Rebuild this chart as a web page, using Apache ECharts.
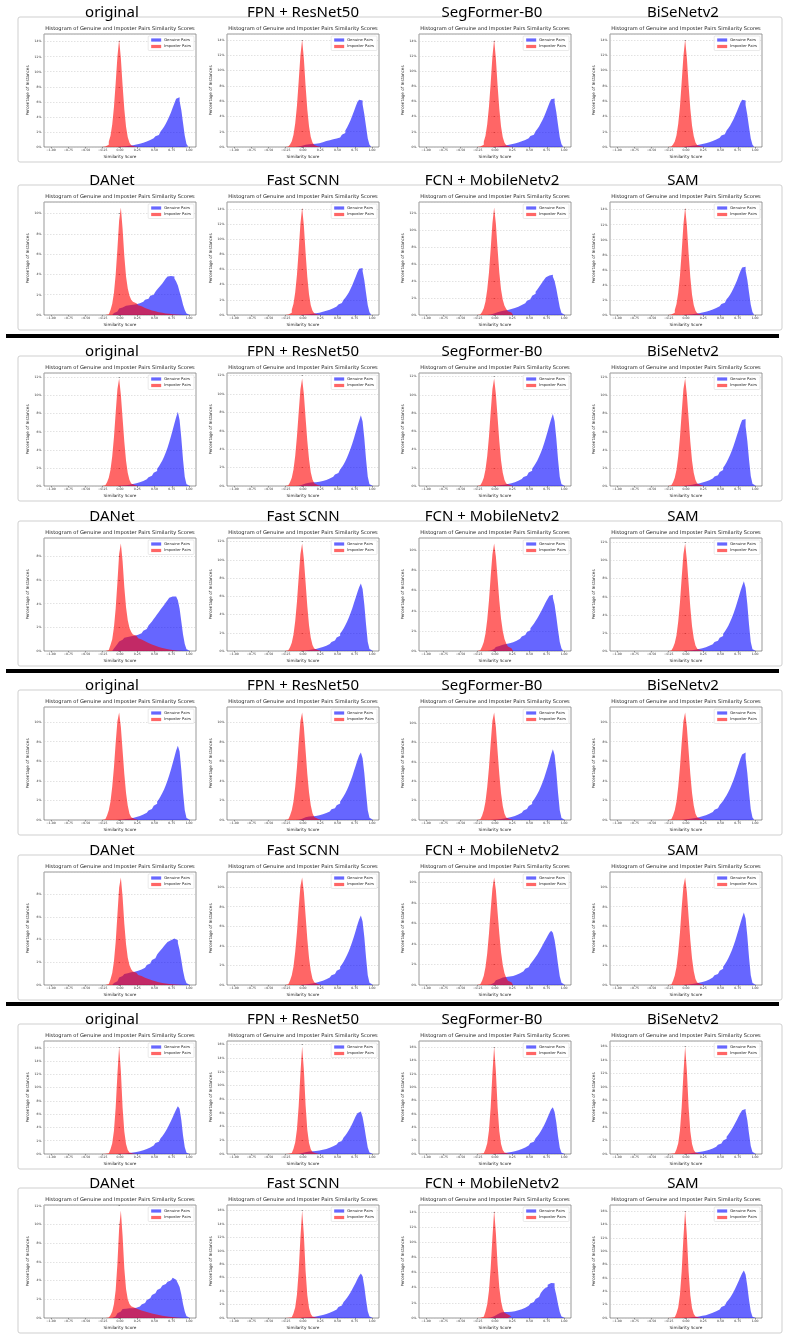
<!DOCTYPE html>
<html>
<head>
<meta charset="utf-8">
<script src="https://cdn.jsdelivr.net/npm/echarts@6/dist/echarts.min.js"></script>
<style>
html,body{margin:0;padding:0;background:#fff}
#main{width:789px;height:1337px}
</style>
</head>
<body>
<div id="main"></div>
<script>
// model names, in panel order (4 per row, 2 rows per group)
var MODELS = ['original', 'FPN + ResNet50', 'SegFormer-B0', 'BiSeNetv2', 'DANet', 'Fast SCNN', 'FCN + MobileNetv2', 'SAM'];
var PLOT_TITLE = 'Histogram of Genuine and Imposter Pairs Similarity Scores';
var X_TICKS = [-1, -0.75, -0.5, -0.25, 0, 0.25, 0.5, 0.75, 1];
var BIN = 0.025;          // histogram bin width
var GEN_START = -0.1;     // centre of first genuine bin
var IMP_START = -0.25;    // centre of first imposter bin

// ---- group 1 ----
var g1OriginalImp = [0.02,0.05,0.12,0.3,0.7,1.5,3.0,5.3,8.5,12.0,14.3,11.8,8.2,5.0,2.7,1.3,0.55,0.22,0.08,0.03,0.01];
var g1OriginalGen = [0,0,0.01,0.02,0.04,0.06,0.08,0.1,0.13,0.16,0.2,0.24,0.28,0.33,0.38,0.44,0.5,0.57,0.65,0.73,0.82,0.92,1.03,1.15,1.28,1.43,1.6,1.8,2.05,2.35,2.7,3.1,3.55,4.05,4.6,5.2,5.8,6.4,6.6,6.1,4.9,3.2,1.5,0.4,0.05];
var g1FpnImp = [0.02,0.05,0.13,0.32,0.75,1.6,3.1,5.4,8.6,12.0,14.1,11.6,8.0,4.9,2.7,1.3,0.6,0.25,0.1,0.04,0.01];
var g1FpnGen = [0.02,0.05,0.1,0.17,0.25,0.3,0.33,0.35,0.37,0.38,0.4,0.42,0.45,0.5,0.55,0.62,0.7,0.78,0.85,0.9,0.95,1.0,1.05,1.1,1.15,1.25,1.4,1.6,1.85,2.15,2.55,3.0,3.5,4.1,4.7,5.3,5.9,6.2,6.1,5.6,4.3,2.7,1.1,0.3,0.03];
var g1SegImp = [0.02,0.05,0.12,0.3,0.7,1.5,3.0,5.3,8.4,11.9,14.2,11.7,8.1,5.0,2.7,1.3,0.55,0.22,0.08,0.03,0.01];
var g1SegGen = [0,0,0.01,0.02,0.04,0.06,0.09,0.12,0.15,0.18,0.22,0.26,0.3,0.35,0.4,0.46,0.52,0.59,0.67,0.75,0.84,0.94,1.05,1.17,1.3,1.45,1.62,1.82,2.07,2.37,2.72,3.12,3.57,4.07,4.62,5.2,5.8,6.3,6.4,5.9,4.6,2.9,1.3,0.35,0.04];
var g1BisImp = [0.02,0.05,0.13,0.32,0.72,1.55,3.05,5.3,8.5,11.9,14.1,11.7,8.1,5.0,2.8,1.4,0.6,0.24,0.09,0.03,0.01];
var g1BisGen = [0,0.01,0.02,0.04,0.06,0.09,0.12,0.15,0.18,0.21,0.25,0.29,0.33,0.38,0.43,0.49,0.55,0.62,0.7,0.78,0.87,0.97,1.08,1.2,1.34,1.5,1.68,1.9,2.15,2.45,2.8,3.2,3.65,4.15,4.7,5.25,5.8,6.2,6.1,5.5,4.2,2.6,1.1,0.3,0.03];
var g1DanImp = [0,0.01,0.03,0.08,0.2,0.5,1.1,2.2,4.0,6.5,9.3,10.6,8.5,5.8,3.8,2.6,1.9,1.5,1.3,1.15,1.05,0.95,0.85,0.78,0.7,0.63,0.57,0.5,0.45,0.4,0.36,0.32,0.28,0.25,0.22,0.19,0.16,0.14,0.12,0.1,0.08,0.06,0.05,0.03,0.02,0.01,0];
var g1DanGen = [0.1,0.2,0.35,0.5,0.65,0.75,0.85,0.9,0.95,0.95,0.95,1.0,1.0,1.05,1.1,1.15,1.2,1.3,1.4,1.5,1.6,1.75,1.9,2.0,2.15,2.3,2.5,2.7,2.9,3.1,3.35,3.6,3.8,3.85,3.95,3.8,3.6,3.3,2.9,2.3,1.7,1.0,0.5,0.15,0.02];
var g1FastImp = [0.02,0.05,0.12,0.3,0.7,1.5,3.0,5.3,8.5,12.0,14.2,11.8,8.2,5.0,2.7,1.3,0.55,0.22,0.08,0.03,0.01];
var g1FastGen = [0,0,0.01,0.02,0.04,0.06,0.08,0.1,0.13,0.16,0.2,0.23,0.27,0.31,0.36,0.42,0.48,0.55,0.62,0.7,0.79,0.89,1.0,1.12,1.25,1.4,1.57,1.77,2.0,2.28,2.6,2.98,3.42,3.92,4.47,5.05,5.65,6.1,6.2,5.8,4.6,2.9,1.3,0.35,0.04];
var g1FcnImp = [0.02,0.06,0.15,0.35,0.8,1.6,3.0,5.0,7.8,10.8,12.7,10.8,7.8,5.0,3.0,1.8,1.1,0.7,0.45,0.3,0.2];
var g1FcnGen = [0.02,0.05,0.1,0.17,0.25,0.33,0.4,0.45,0.5,0.53,0.56,0.6,0.65,0.7,0.76,0.82,0.9,0.98,1.07,1.17,1.28,1.4,1.53,1.68,1.85,2.05,2.27,2.5,2.75,3.0,3.3,3.6,3.9,4.2,4.45,4.65,4.8,4.75,4.5,4.0,3.1,2.0,0.9,0.25,0.03];
var g1SamImp = [0.02,0.05,0.12,0.3,0.68,1.45,2.95,5.2,8.4,12.0,14.3,11.9,8.2,5.0,2.7,1.3,0.55,0.22,0.08,0.03,0.01];
var g1SamGen = [0,0,0.01,0.02,0.03,0.05,0.07,0.1,0.13,0.16,0.2,0.24,0.28,0.32,0.37,0.43,0.5,0.57,0.65,0.73,0.82,0.92,1.03,1.15,1.29,1.45,1.63,1.84,2.08,2.36,2.7,3.1,3.55,4.05,4.6,5.2,5.8,6.3,6.4,5.9,4.7,3.0,1.35,0.35,0.04];

// ---- group 2 ----
var g2OriginalImp = [0.02,0.07,0.18,0.42,0.9,1.8,3.3,5.4,8.1,10.7,11.9,10.1,7.5,4.9,2.8,1.45,0.65,0.27,0.1,0.04,0.01];
var g2OriginalGen = [0,0,0.01,0.02,0.03,0.05,0.07,0.09,0.11,0.14,0.17,0.21,0.25,0.3,0.35,0.41,0.48,0.56,0.65,0.75,0.86,0.98,1.12,1.28,1.46,1.67,1.9,2.17,2.48,2.83,3.23,3.7,4.23,4.83,5.5,6.2,6.9,7.6,8.2,7.3,5.3,2.9,1.0,0.2,0.02];
var g2FpnImp = [0.02,0.07,0.18,0.42,0.9,1.8,3.3,5.4,8.0,10.5,11.7,10.0,7.4,4.9,2.9,1.5,0.7,0.3,0.12,0.04,0.01];
var g2FpnGen = [0.01,0.03,0.07,0.13,0.2,0.27,0.32,0.36,0.38,0.4,0.4,0.41,0.43,0.46,0.5,0.55,0.6,0.66,0.73,0.81,0.9,1.0,1.12,1.25,1.4,1.58,1.8,2.05,2.35,2.7,3.1,3.55,4.05,4.6,5.2,5.85,6.5,7.1,7.7,7.0,5.2,2.9,1.0,0.2,0.02];
var g2SegImp = [0.02,0.07,0.18,0.42,0.9,1.8,3.3,5.4,8.1,10.6,11.8,10.1,7.5,4.9,2.8,1.45,0.65,0.27,0.1,0.04,0.01];
var g2SegGen = [0,0,0.01,0.02,0.04,0.06,0.08,0.1,0.12,0.15,0.18,0.22,0.26,0.31,0.36,0.42,0.49,0.57,0.66,0.76,0.87,0.99,1.13,1.29,1.47,1.67,1.9,2.16,2.46,2.8,3.2,3.65,4.15,4.72,5.35,6.0,6.7,7.35,7.9,7.1,5.2,2.9,1.0,0.2,0.02];
var g2BisImp = [0.02,0.07,0.18,0.42,0.9,1.8,3.3,5.4,8.1,10.7,11.9,10.1,7.5,4.9,2.8,1.45,0.65,0.27,0.1,0.04,0.01];
var g2BisGen = [0,0.01,0.02,0.04,0.06,0.09,0.12,0.15,0.18,0.21,0.25,0.29,0.33,0.38,0.43,0.49,0.56,0.64,0.73,0.83,0.94,1.06,1.2,1.36,1.55,1.77,2.02,2.3,2.62,3.0,3.42,3.9,4.42,5.0,5.6,6.2,6.8,7.3,7.4,6.6,5.0,2.9,1.1,0.25,0.03];
var g2DanImp = [0,0.01,0.03,0.08,0.2,0.5,1.0,2.0,3.6,5.8,8.2,9.1,7.6,5.4,3.7,2.6,1.95,1.6,1.4,1.28,1.18,1.08,0.98,0.9,0.82,0.75,0.68,0.61,0.55,0.49,0.44,0.39,0.34,0.3,0.26,0.22,0.19,0.16,0.13,0.11,0.09,0.07,0.05,0.04,0.02,0.01,0];
var g2DanGen = [0.1,0.22,0.4,0.6,0.8,0.95,1.05,1.12,1.18,1.22,1.25,1.28,1.3,1.33,1.37,1.42,1.5,1.6,1.72,1.85,2.0,2.15,2.32,2.5,2.7,2.9,3.1,3.3,3.5,3.7,3.9,4.1,4.3,4.5,4.6,4.5,4.6,4.5,4.3,3.6,2.5,1.4,0.6,0.15,0.02];
var g2FastImp = [0.02,0.07,0.18,0.42,0.9,1.8,3.3,5.4,8.1,10.6,11.8,10.1,7.5,4.9,2.8,1.45,0.65,0.27,0.1,0.04,0.01];
var g2FastGen = [0,0,0.01,0.02,0.04,0.06,0.08,0.1,0.13,0.16,0.19,0.23,0.27,0.32,0.37,0.43,0.5,0.58,0.67,0.77,0.88,1.0,1.14,1.3,1.48,1.68,1.91,2.17,2.47,2.81,3.2,3.64,4.13,4.67,5.25,5.85,6.45,7.0,7.4,6.8,5.1,2.9,1.0,0.22,0.02];
var g2FcnImp = [0.02,0.07,0.18,0.42,0.9,1.75,3.1,5.0,7.4,9.6,10.7,9.4,7.2,5.0,3.2,2.0,1.2,0.75,0.45,0.28,0.17];
var g2FcnGen = [0.02,0.06,0.12,0.2,0.3,0.4,0.5,0.57,0.62,0.66,0.7,0.73,0.77,0.82,0.88,0.95,1.03,1.12,1.22,1.33,1.45,1.58,1.72,1.88,2.06,2.26,2.48,2.72,2.98,3.26,3.56,3.88,4.2,4.55,4.9,5.2,5.5,5.6,5.3,4.6,3.4,2.1,0.9,0.25,0.03];
var g2SamImp = [0.02,0.06,0.16,0.4,0.88,1.75,3.25,5.35,8.1,10.7,11.9,10.1,7.5,4.8,2.75,1.4,0.62,0.25,0.09,0.03,0.01];
var g2SamGen = [0,0,0.01,0.02,0.03,0.05,0.07,0.09,0.12,0.15,0.18,0.22,0.26,0.31,0.36,0.42,0.49,0.57,0.66,0.76,0.87,0.99,1.13,1.29,1.47,1.67,1.9,2.16,2.46,2.8,3.2,3.65,4.15,4.7,5.3,5.95,6.6,7.2,7.7,7.0,5.2,2.9,1.0,0.2,0.02];

// ---- group 3 ----
var g3OriginalImp = [0.02,0.07,0.2,0.45,1.0,1.9,3.4,5.4,7.9,10.1,11.0,9.5,7.1,4.7,2.75,1.45,0.65,0.27,0.1,0.04,0.01];
var g3OriginalGen = [0,0,0.01,0.02,0.03,0.05,0.07,0.09,0.11,0.14,0.17,0.21,0.25,0.3,0.35,0.41,0.48,0.56,0.65,0.75,0.86,0.98,1.12,1.28,1.46,1.66,1.88,2.13,2.42,2.75,3.12,3.55,4.03,4.57,5.15,5.8,6.45,7.1,7.6,7.0,5.1,2.8,1.0,0.2,0.02];
var g3FpnImp = [0.02,0.07,0.2,0.45,1.0,1.9,3.4,5.4,7.9,10.1,11.0,9.5,7.1,4.7,2.8,1.5,0.7,0.3,0.12,0.04,0.01];
var g3FpnGen = [0.01,0.03,0.07,0.13,0.2,0.27,0.32,0.35,0.37,0.38,0.39,0.41,0.44,0.48,0.53,0.58,0.64,0.71,0.79,0.88,0.98,1.09,1.21,1.35,1.51,1.69,1.9,2.14,2.42,2.74,3.1,3.5,3.95,4.45,5.0,5.55,6.1,6.6,6.9,6.3,4.8,2.8,1.0,0.22,0.02];
var g3SegImp = [0.02,0.07,0.2,0.45,1.0,1.9,3.4,5.4,7.9,10.2,11.1,9.6,7.1,4.7,2.75,1.45,0.65,0.27,0.1,0.04,0.01];
var g3SegGen = [0,0,0.01,0.02,0.04,0.06,0.08,0.1,0.12,0.15,0.18,0.22,0.26,0.31,0.36,0.42,0.49,0.57,0.66,0.76,0.87,0.99,1.13,1.28,1.45,1.64,1.85,2.09,2.36,2.67,3.02,3.42,3.87,4.37,4.92,5.5,6.1,6.75,7.3,6.7,5.0,2.8,1.0,0.2,0.02];
var g3BisImp = [0.02,0.07,0.2,0.45,1.0,1.9,3.4,5.4,7.9,10.1,11.0,9.5,7.1,4.7,2.75,1.45,0.65,0.27,0.1,0.04,0.01];
var g3BisGen = [0,0.01,0.02,0.04,0.06,0.09,0.12,0.15,0.18,0.21,0.25,0.29,0.33,0.38,0.43,0.49,0.56,0.64,0.73,0.83,0.94,1.06,1.2,1.36,1.54,1.75,1.98,2.24,2.53,2.86,3.23,3.65,4.1,4.6,5.15,5.7,6.25,6.7,6.9,6.3,4.8,2.8,1.1,0.25,0.03];
var g3DanImp = [0,0.01,0.03,0.08,0.2,0.5,1.05,2.1,3.8,6.2,8.6,9.5,7.8,5.4,3.6,2.4,1.75,1.4,1.2,1.08,0.98,0.89,0.8,0.72,0.65,0.58,0.52,0.46,0.41,0.36,0.32,0.28,0.24,0.21,0.18,0.15,0.13,0.11,0.09,0.07,0.06,0.05,0.04,0.03,0.02,0.01,0];
var g3DanGen = [0.08,0.18,0.33,0.5,0.67,0.8,0.9,0.98,1.04,1.08,1.12,1.15,1.18,1.22,1.26,1.3,1.36,1.44,1.53,1.64,1.76,1.9,2.04,2.2,2.36,2.53,2.7,2.88,3.06,3.25,3.44,3.62,3.8,3.95,4.05,4.1,4.05,3.95,3.7,3.1,2.2,1.25,0.55,0.15,0.02];
var g3FastImp = [0.02,0.07,0.2,0.45,1.0,1.9,3.4,5.4,7.9,10.1,11.0,9.5,7.1,4.7,2.75,1.45,0.65,0.27,0.1,0.04,0.01];
var g3FastGen = [0,0,0.01,0.02,0.04,0.06,0.08,0.1,0.13,0.16,0.19,0.23,0.27,0.32,0.37,0.43,0.5,0.58,0.67,0.77,0.88,1.0,1.13,1.28,1.45,1.64,1.86,2.1,2.38,2.7,3.06,3.46,3.92,4.42,4.97,5.55,6.15,6.7,7.1,6.5,4.9,2.8,1.0,0.22,0.02];
var g3FcnImp = [0.02,0.07,0.18,0.42,0.9,1.75,3.1,5.0,7.3,9.4,10.5,9.3,7.1,5.0,3.2,1.95,1.15,0.7,0.42,0.26,0.15];
var g3FcnGen = [0.02,0.06,0.13,0.23,0.35,0.47,0.58,0.67,0.73,0.77,0.79,0.8,0.82,0.85,0.89,0.94,1.0,1.07,1.15,1.24,1.34,1.45,1.58,1.72,1.88,2.06,2.26,2.48,2.72,2.98,3.26,3.56,3.87,4.2,4.5,4.8,5.1,5.3,5.1,4.4,3.3,2.0,0.85,0.22,0.03];
var g3SamImp = [0.02,0.06,0.18,0.43,0.97,1.85,3.35,5.35,7.9,10.1,11.0,9.5,7.0,4.6,2.7,1.4,0.62,0.25,0.09,0.03,0.01];
var g3SamGen = [0,0,0.01,0.02,0.03,0.05,0.07,0.09,0.12,0.15,0.18,0.22,0.26,0.31,0.36,0.42,0.49,0.57,0.66,0.76,0.87,0.99,1.13,1.28,1.45,1.65,1.87,2.12,2.41,2.74,3.11,3.53,4.0,4.52,5.1,5.7,6.3,6.9,7.4,6.8,5.0,2.8,1.0,0.2,0.02];

// ---- group 4 ----
var g4OriginalImp = [0.01,0.02,0.05,0.12,0.3,0.7,1.6,3.5,7.0,12.0,16.2,12.5,7.0,3.4,1.5,0.6,0.22,0.08,0.03,0.01,0];
var g4OriginalGen = [0,0,0.01,0.02,0.03,0.05,0.07,0.09,0.12,0.15,0.18,0.22,0.26,0.31,0.36,0.42,0.49,0.57,0.66,0.76,0.87,0.99,1.13,1.28,1.45,1.64,1.85,2.09,2.37,2.69,3.05,3.46,3.92,4.43,4.98,5.55,6.15,6.7,7.2,6.8,5.1,2.8,1.0,0.2,0.02];
var g4FpnImp = [0.01,0.02,0.05,0.13,0.32,0.75,1.7,3.6,7.0,11.7,15.7,12.3,7.1,3.5,1.6,0.7,0.28,0.1,0.04,0.01,0];
var g4FpnGen = [0.01,0.03,0.07,0.13,0.2,0.27,0.32,0.35,0.37,0.39,0.41,0.44,0.47,0.51,0.56,0.61,0.67,0.74,0.82,0.91,1.01,1.12,1.24,1.38,1.53,1.7,1.9,2.13,2.4,2.7,3.05,3.45,3.9,4.4,4.95,5.5,5.95,6.2,6.1,5.4,4.0,2.4,0.95,0.22,0.02];
var g4SegImp = [0.01,0.02,0.05,0.12,0.3,0.7,1.6,3.5,7.0,12.0,16.1,12.4,7.0,3.4,1.5,0.6,0.22,0.08,0.03,0.01,0];
var g4SegGen = [0,0,0.01,0.02,0.04,0.06,0.08,0.1,0.12,0.15,0.18,0.22,0.26,0.31,0.36,0.42,0.49,0.57,0.66,0.76,0.87,0.99,1.12,1.27,1.44,1.63,1.84,2.08,2.35,2.66,3.0,3.4,3.85,4.35,4.9,5.5,6.1,6.7,7.0,6.3,4.7,2.6,0.95,0.2,0.02];
var g4BisImp = [0.01,0.02,0.05,0.12,0.3,0.7,1.6,3.5,7.0,11.9,16.0,12.4,7.0,3.4,1.5,0.6,0.22,0.08,0.03,0.01,0];
var g4BisGen = [0,0.01,0.02,0.04,0.06,0.09,0.12,0.15,0.18,0.21,0.25,0.29,0.33,0.38,0.43,0.49,0.56,0.64,0.73,0.83,0.94,1.07,1.21,1.37,1.55,1.76,2.0,2.27,2.57,2.9,3.27,3.68,4.13,4.6,5.1,5.6,6.1,6.5,6.7,6.4,5.0,3.0,1.2,0.3,0.03];
var g4DanImp = [0,0.01,0.02,0.05,0.12,0.3,0.7,1.5,3.0,5.8,9.6,11.5,8.8,5.3,3.1,2.0,1.5,1.25,1.1,1.0,0.93,0.87,0.81,0.75,0.69,0.63,0.58,0.53,0.48,0.44,0.4,0.36,0.32,0.28,0.25,0.22,0.19,0.16,0.14,0.12,0.1,0.08,0.06,0.04,0.03,0.01,0];
var g4DanGen = [0.05,0.15,0.3,0.5,0.7,0.85,0.95,1.0,1.02,1.03,1.04,1.05,1.07,1.1,1.15,1.22,1.32,1.45,1.6,1.76,1.93,2.1,2.28,2.46,2.64,2.82,3.0,3.17,3.33,3.48,3.62,3.75,3.88,4.0,4.1,4.3,4.1,3.9,3.7,3.3,2.5,1.5,0.7,0.2,0.03];
var g4FastImp = [0.01,0.02,0.05,0.12,0.3,0.7,1.6,3.5,7.0,11.9,16.0,12.4,7.0,3.4,1.5,0.6,0.22,0.08,0.03,0.01,0];
var g4FastGen = [0,0,0.01,0.02,0.04,0.06,0.08,0.1,0.13,0.16,0.19,0.23,0.27,0.32,0.37,0.43,0.5,0.58,0.67,0.77,0.88,1.0,1.13,1.28,1.45,1.64,1.86,2.1,2.37,2.67,3.0,3.38,3.8,4.26,4.75,5.25,5.8,6.3,6.6,6.2,4.7,2.7,1.0,0.22,0.02];
var g4FcnImp = [0.01,0.03,0.07,0.16,0.38,0.85,1.8,3.6,6.6,10.6,14.2,11.2,7.0,4.0,2.2,1.2,0.7,0.45,0.3,0.2,0.12];
var g4FcnGen = [0.02,0.06,0.13,0.24,0.37,0.5,0.62,0.71,0.77,0.8,0.8,0.8,0.81,0.83,0.86,0.9,0.95,1.01,1.08,1.16,1.25,1.35,1.47,1.6,1.75,1.92,2.1,2.3,2.52,2.76,3.02,3.3,3.58,3.86,4.12,4.4,4.62,4.8,4.6,4.0,3.0,1.8,0.8,0.2,0.02];
var g4SamImp = [0.01,0.02,0.05,0.12,0.3,0.7,1.6,3.5,7.0,12.0,16.1,12.4,7.0,3.4,1.5,0.6,0.22,0.08,0.03,0.01,0];
var g4SamGen = [0,0,0.01,0.02,0.03,0.05,0.07,0.1,0.13,0.16,0.19,0.23,0.27,0.32,0.37,0.43,0.5,0.58,0.67,0.77,0.88,1.0,1.14,1.29,1.46,1.65,1.87,2.11,2.38,2.69,3.04,3.44,3.9,4.4,4.96,5.55,6.15,6.7,7.1,6.5,4.8,2.7,1.0,0.2,0.02];

// [genuine, imposter] per panel, per group
var groups = [
    [[g1OriginalGen, g1OriginalImp], [g1FpnGen, g1FpnImp], [g1SegGen, g1SegImp], [g1BisGen, g1BisImp],
     [g1DanGen, g1DanImp], [g1FastGen, g1FastImp], [g1FcnGen, g1FcnImp], [g1SamGen, g1SamImp]],
    [[g2OriginalGen, g2OriginalImp], [g2FpnGen, g2FpnImp], [g2SegGen, g2SegImp], [g2BisGen, g2BisImp],
     [g2DanGen, g2DanImp], [g2FastGen, g2FastImp], [g2FcnGen, g2FcnImp], [g2SamGen, g2SamImp]],
    [[g3OriginalGen, g3OriginalImp], [g3FpnGen, g3FpnImp], [g3SegGen, g3SegImp], [g3BisGen, g3BisImp],
     [g3DanGen, g3DanImp], [g3FastGen, g3FastImp], [g3FcnGen, g3FcnImp], [g3SamGen, g3SamImp]],
    [[g4OriginalGen, g4OriginalImp], [g4FpnGen, g4FpnImp], [g4SegGen, g4SegImp], [g4BisGen, g4BisImp],
     [g4DanGen, g4DanImp], [g4FastGen, g4FastImp], [g4FcnGen, g4FcnImp], [g4SamGen, g4SamImp]]
];

// layout
var COL_LEFT = [44, 227, 419, 610];
var PLOT_W = 152;
var NAME_X = [112, 303, 492, 683];
var ROW_Y = [13, 181, 352, 517, 686, 851, 1020, 1184];   // model name line of each row
var SEP_Y = [334, 669, 1002];
var GEN_COLOR = 'rgba(0,0,255,0.6)';
var IMP_COLOR = 'rgba(255,0,0,0.6)';
var FONT = 'DejaVu Sans';

// bins -> points of a step outline (left edges)
var steps = function (vals, start) {
    var pts = [[start - BIN / 2, 0]];
    for (var k = 0; k < vals.length; k++) {
        pts.push([start + k * BIN - BIN / 2, vals[k]]);
    }
    pts.push([start + vals.length * BIN - BIN / 2, 0]);
    return pts;
};
var fmtX = function (v) {
    return (v < 0 ? '\u2212' : '') + Math.abs(v).toFixed(2);
};

var grid = [], xAxis = [], yAxis = [], series = [], legend = [], graphic = [];

ROW_Y.forEach(function (T) {
    graphic.push({
        type: 'rect', z: 0,
        shape: {x: 18, y: T + 4, width: 764, height: 145, r: 2},
        style: {fill: 'none', stroke: '#cfcfcf', lineWidth: 1}
    });
});
SEP_Y.forEach(function (y) {
    graphic.push({type: 'rect', shape: {x: 6, y: y, width: 773, height: 4}, style: {fill: '#000'}});
});

groups.forEach(function (group, g) {
    group.forEach(function (panel, p) {
        var row = g * 2 + Math.floor(p / 4);
        var col = p % 4;
        var idx = grid.length;
        var T = ROW_Y[row];
        var top = T + 21, bottom = T + 134;

        grid.push({
            left: COL_LEFT[col], top: top, width: PLOT_W, height: bottom - top,
            show: true, borderColor: '#555', borderWidth: 0.6, backgroundColor: '#fff'
        });
        xAxis.push({
            gridIndex: idx, type: 'value', min: -1.1, max: 1.1,
            splitLine: {show: false},
            axisLine: {show: false},
            axisTick: {show: true, length: 1.5, customValues: X_TICKS, lineStyle: {color: '#444', width: 0.5}},
            axisLabel: {customValues: X_TICKS, formatter: fmtX, fontSize: 3.1, color: '#333', margin: 2, fontFamily: FONT},
            name: 'Similarity Score', nameLocation: 'middle', nameGap: 8,
            nameTextStyle: {fontSize: 4.2, color: '#222', fontFamily: FONT}
        });
        yAxis.push({
            gridIndex: idx, type: 'value', min: 0, interval: 2,
            max: function (v) { return v.max * 1.05; },
            axisLine: {show: false},
            axisTick: {show: true, length: 1.5, lineStyle: {color: '#444', width: 0.5}},
            axisLabel: {formatter: '{value}%', fontSize: 3.1, color: '#333', margin: 2.5, fontFamily: FONT, showMaxLabel: false},
            splitLine: {show: true, lineStyle: {color: '#c4c4c4', width: 0.5, type: [1.5, 1.5]}},
            name: 'Percentage of Instances', nameLocation: 'middle', nameGap: 14,
            nameTextStyle: {fontSize: 4.2, color: '#222', fontFamily: FONT}
        });
        series.push({
            type: 'line', name: 'Genuine Pairs', xAxisIndex: idx, yAxisIndex: idx,
            data: steps(panel[0], GEN_START), step: 'end',
            symbol: 'none', lineStyle: {width: 0, opacity: 0},
            itemStyle: {color: GEN_COLOR}, areaStyle: {color: GEN_COLOR, opacity: 1},
            silent: true, z: 2
        });
        series.push({
            type: 'line', name: 'Imposter Pairs', xAxisIndex: idx, yAxisIndex: idx,
            data: steps(panel[1], IMP_START), step: 'end',
            symbol: 'none', lineStyle: {width: 0, opacity: 0},
            itemStyle: {color: IMP_COLOR}, areaStyle: {color: IMP_COLOR, opacity: 1},
            silent: true, z: 3
        });
        legend.push({
            orient: 'vertical', right: 789 - (COL_LEFT[col] + PLOT_W) + 2, top: top + 2,
            data: ['Genuine Pairs', 'Imposter Pairs'], icon: 'rect',
            itemWidth: 10, itemHeight: 3.2, itemGap: 2.5, padding: [2, 3],
            borderColor: '#d4d4d4', borderWidth: 0.5, borderRadius: 1, backgroundColor: 'rgba(255,255,255,0.85)',
            textStyle: {fontSize: 3.75, color: '#222', fontFamily: FONT, padding: [0, 0, 0, -2]},
            selectedMode: false
        });
        // plot title
        graphic.push({
            type: 'text', x: COL_LEFT[col] + PLOT_W / 2, y: top - 5, z: 10,
            style: {text: PLOT_TITLE, align: 'center', verticalAlign: 'middle', fontSize: 5.1, fontFamily: FONT, fill: '#222'}
        });
        // model name
        graphic.push({
            type: 'text', x: NAME_X[col], y: T, z: 10,
            style: {text: MODELS[p], align: 'center', verticalAlign: 'middle', fontSize: 15, fontFamily: 'Noto Sans', fill: '#000'}
        });
    });
});

var option = {
    backgroundColor: '#fff',
    animation: false,
    grid: grid,
    xAxis: xAxis,
    yAxis: yAxis,
    legend: legend,
    series: series,
    graphic: graphic
};

var myChart = echarts.init(document.getElementById('main'));
myChart.setOption(option);
</script>
</body>
</html>
